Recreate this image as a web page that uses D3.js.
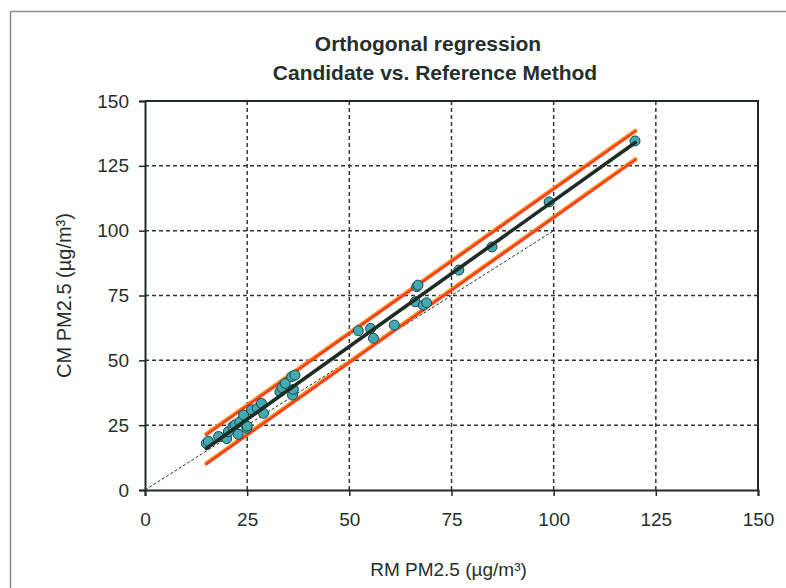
<!DOCTYPE html>
<html>
<head>
<meta charset="utf-8">
<script src="https://cdn.jsdelivr.net/npm/d3@7"></script>
<style>
  body { margin: 0; background: #fff; }
  text { font-family: "Liberation Sans", Arial, sans-serif; fill: #26302b; }
</style>
</head>
<body>
<div id="chart"></div>
<script>
// measured pairs, RM (x) vs CM (y)
const rmValues = [15.0, 15.5, 18.0, 20.0, 20.4, 21.5, 22.0, 22.8, 23.2, 24.1, 24.9, 25.0,
  26.1, 27.5, 28.5, 29.0, 33.0, 33.5, 34.3, 35.9, 36.1, 36.3, 36.7,
  52.2, 55.2, 55.9, 61.0, 66.1, 66.5, 66.8, 68.1, 68.9, 76.8, 84.9, 98.9, 119.9];
const cmValues = [18.0, 18.8, 20.6, 19.8, 22.5, 24.5, 25.1, 21.5, 26.3, 28.9, 23.8, 24.6,
  30.9, 31.5, 33.4, 29.6, 37.9, 39.5, 41.1, 43.7, 36.6, 38.8, 44.3,
  61.4, 62.3, 58.5, 63.6, 72.6, 78.4, 79.0, 71.3, 72.2, 84.8, 93.7, 111.1, 134.6];

// line end points
const regressionLine = [[15, 16], [120, 134]];
const upperBand = [[15, 21.6], [120, 138.6]];
const lowerBand = [[15, 10.3], [120, 127.6]];
const identityLine = [[0, 0], [100, 100]];

const tickValues = [0, 25, 50, 75, 100, 125, 150];

const W = 786, H = 588;
const margin = { top: 101, right: 28, bottom: 98, left: 145 };
const w = W - margin.left - margin.right;
const h = H - margin.top - margin.bottom;

const svg = d3.select("#chart").append("svg")
  .attr("width", W)
  .attr("height", H);

// outer chart frame
svg.append("path")
  .attr("d", "M10.5," + H + " V11.5 H" + W)
  .attr("fill", "none")
  .attr("stroke", "#8a8f8c")
  .attr("stroke-width", 1.5);

const inner = svg.append("g")
  .attr("transform", "translate(" + margin.left + "," + margin.top + ")");

const xScale = d3.scaleLinear().domain([0, 150]).range([0, w]);
const yScale = d3.scaleLinear().domain([0, 150]).range([h, 0]);

// grid
const grid = inner.append("g").attr("class", "grid");
grid.selectAll(".gx")
  .data(tickValues.slice(1, -1))
  .enter().append("line")
  .attr("x1", d => xScale(d)).attr("x2", d => xScale(d))
  .attr("y1", 0).attr("y2", h)
  .attr("stroke", "#2f3531").attr("stroke-width", 1.5)
  .attr("stroke-dasharray", "4,3");
grid.selectAll(".gy")
  .data(tickValues.slice(1, -1))
  .enter().append("line")
  .attr("y1", d => yScale(d)).attr("y2", d => yScale(d))
  .attr("x1", 0).attr("x2", w)
  .attr("stroke", "#2f3531").attr("stroke-width", 1.5)
  .attr("stroke-dasharray", "4,3");

// plot border (top, right)
inner.append("path")
  .attr("d", "M0,0 H" + w + " V" + h)
  .attr("fill", "none")
  .attr("stroke", "#1f2b24")
  .attr("stroke-width", 2);

// axes
const xAxis = d3.axisBottom(xScale).tickValues(tickValues).tickSize(6).tickPadding(17);
const yAxis = d3.axisLeft(yScale).tickValues(tickValues).tickSize(6).tickPadding(10);

const gX = inner.append("g")
  .attr("transform", "translate(0," + h + ")")
  .call(xAxis);
const gY = inner.append("g").call(yAxis);

[gX, gY].forEach(g => {
  g.select(".domain").attr("stroke", "#1f2b24").attr("stroke-width", 2);
  g.selectAll(".tick line").attr("stroke", "#1f2b24").attr("stroke-width", 1.5);
  g.selectAll(".tick text")
    .style("font-size", "19px")
    .style("font-family", "'Liberation Sans', Arial, sans-serif")
    .attr("fill", "#26302b");
});

const line = d3.line().x(d => xScale(d[0])).y(d => yScale(d[1]));

// 1:1 line
inner.append("path")
  .attr("d", line(identityLine))
  .attr("fill", "none")
  .attr("stroke", "#2a2f2c")
  .attr("stroke-width", 1)
  .attr("stroke-dasharray", "3,2");

// confidence bands
[upperBand, lowerBand].forEach(band => {
  inner.append("path")
    .attr("d", line(band))
    .attr("fill", "none")
    .attr("stroke", "#ff8a1c")
    .attr("stroke-width", 4)
    .attr("stroke-linecap", "round");
  inner.append("path")
    .attr("d", line(band))
    .attr("fill", "none")
    .attr("stroke", "#ff3c1e")
    .attr("stroke-width", 2.4)
    .attr("transform", "translate(0,0.8)")
    .attr("stroke-linecap", "round");
});

// points
const points = rmValues.map((x, i) => [x, cmValues[i]]);
inner.append("g").selectAll("circle")
  .data(points)
  .enter().append("circle")
  .attr("cx", d => xScale(d[0]))
  .attr("cy", d => yScale(d[1]))
  .attr("r", 5)
  .attr("fill", "#43a9b3")
  .attr("stroke", "#1c4446")
  .attr("stroke-width", 1);

// regression line
inner.append("path")
  .attr("d", line(regressionLine))
  .attr("fill", "none")
  .attr("stroke", "#1f2e25")
  .attr("stroke-width", 3.6)
  .attr("stroke-linecap", "round");

// titles
svg.append("text")
  .attr("x", 428).attr("y", 51)
  .attr("text-anchor", "middle")
  .style("font-size", "21px").style("font-weight", "bold")
  .text("Orthogonal regression");
svg.append("text")
  .attr("x", 435).attr("y", 80)
  .attr("text-anchor", "middle")
  .style("font-size", "21px").style("font-weight", "bold")
  .text("Candidate vs. Reference Method");

svg.append("text")
  .attr("x", margin.left + w / 2 - 3).attr("y", 576)
  .attr("text-anchor", "middle")
  .style("font-size", "19px")
  .text("RM PM2.5 (µg/m³)");

svg.append("text")
  .attr("transform", "translate(71," + (margin.top + h / 2) + ") rotate(-90)")
  .attr("text-anchor", "middle")
  .style("font-size", "20px")
  .text("CM PM2.5 (µg/m³)");
</script>
</body>
</html>
